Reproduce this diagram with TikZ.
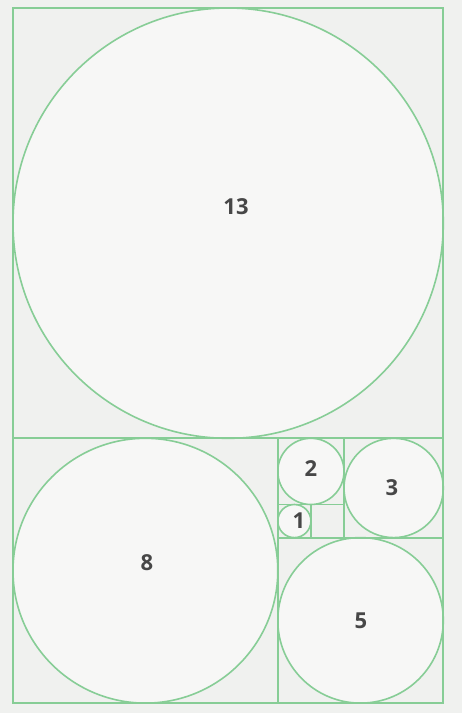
\documentclass[tikz,border=0pt]{standalone}
\usepackage{fontspec}
\setsansfont{Open Sans}
\definecolor{fibline}{RGB}{135,205,150}
\definecolor{fibback}{RGB}{240,241,239}
\definecolor{fibdisc}{RGB}{247,247,246}
\begin{document}
\begin{tikzpicture}[x=1pt, y=-1pt,
    sq/.style={draw=fibline, line width=1.8pt},
    disc/.style={draw=fibline, line width=1.6pt, fill=fibdisc},
    num/.style={font=\sffamily\bfseries\fontsize{22}{22}\selectfont, text=black!72}]
  \fill[fibback] (0,0) rectangle (462,713);
  \useasboundingbox (0,0) rectangle (462,713);
  \def\u{33.1}
  % discs inscribed in the squares: corner (in units from the top left), side
  \foreach \i/\j/\s in {0/0/13, 0/13/8, 8/16/5, 10/13/3, 8/13/2, 8/15/1}
    \draw[disc] (13+\i*\u+\s*\u/2, 8+\j*\u+\s*\u/2) circle[radius=\s*\u/2];
  % the squares themselves
  \foreach \i/\j/\s in {0/0/13, 0/13/8, 8/16/5, 10/13/3, 8/13/2, 8/15/1, 9/15/1}
    \draw[sq] (13+\i*\u, 8+\j*\u) rectangle ++(\s*\u, \s*\u);
  \node[num] (n13) at (236,207) {13};
  \node[num] (n8) at (147,563) {8};
  \node[num] (n5) at (361,621) {5};
  \node[num] (n3) at (392,488) {3};
  \node[num] (n2) at (311,469) {2};
  \node[num] (n1) at (299,521) {1};
\end{tikzpicture}
\end{document}
